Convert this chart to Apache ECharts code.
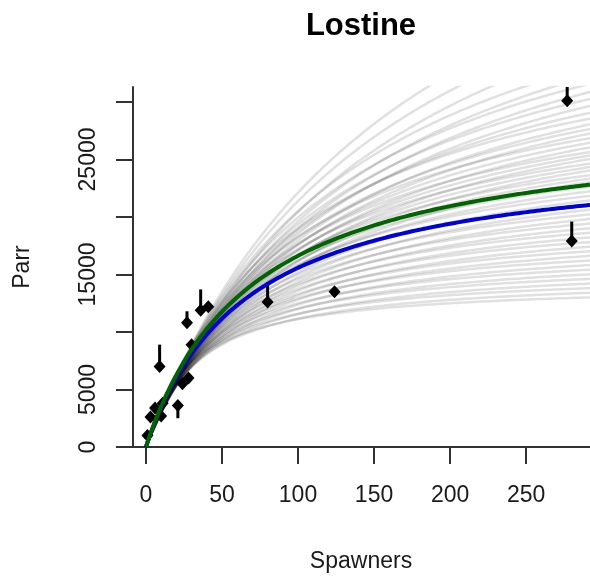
<!DOCTYPE html>
<html>
<head>
<meta charset="utf-8">
<script src="https://cdn.jsdelivr.net/npm/echarts@6/dist/echarts.min.js"></script>
<style>
html,body{margin:0;padding:0;background:#fff;}
#chart{width:590px;height:580px;}
</style>
</head>
<body>
<div id="chart"></div>
<script>
// ---- Data ----
const titleText = 'Lostine';
const xName = 'Spawners';
const yName = 'Parr';

const xTicks = [0, 50, 100, 150, 200, 250];
const yTicks = [0, 5000, 10000, 15000, 20000, 25000, 30000];
const yTickLabels = [0, 5000, 15000, 25000];

// observed points
const spawners = [1, 3, 6, 10, 11, 9, 21, 24, 28, 30, 27, 36, 41, 80, 124, 277, 280];
const parr     = [1000, 2600, 3400, 2700, 3800, 7000, 3600, 5500, 6000, 8900, 10800, 11900, 12200, 12600, 13500, 30100, 17900];
// other end of the vertical segment attached to a point (null = none)
const parrLineEnd = [null, null, null, null, null, 8900, 2500, null, null, null, 11800, 13700, null, 14300, null, 31400, 19600];

// fitted curves (Beverton-Holt: y = asym * x / (halfSat + x))
const blueAsym = 25750, blueHalfSat = 65.3;
const greenAsym = 28300, greenHalfSat = 70.3;

// grey posterior curves: value at 50 spawners and at 290 spawners
const greyAt50  = [13500,13200,12600,13000,12300,12800,12000,12500,11800,12200,12600,11600,12000,11400,12300,11700,11200,12000,11500,11000,11800,11300,10800,11600,11000,10600,11400,10900,11200,10500,11000,10300,10800,10100,10600,10000,10400,9800,10200,9600,10000,9500,9900,9300,9700,9200,9500,9000,9300,8900,9100];
const greyAt290 = [38000,36000,34500,33000,32200,31500,30800,30200,29600,29000,28500,28000,27600,27200,26800,26400,26000,25600,25300,25000,24600,24300,24000,23600,23300,23000,22600,22200,21800,21400,21000,20600,20200,19800,19400,19000,18600,18200,17800,17400,17000,16600,16200,15800,15400,15000,14600,14200,13800,13400,13000];

// ---- build ----
const X_MIN = -8.5, X_MAX = 292, Y_MIN = 0, Y_MAX = 31300;
const xs = [];
for (let x = 0; x <= X_MAX; x += 1) xs.push(x);

function bhCurve(asym, k) {
  return xs.map(x => [x, asym * x / (k + x)]);
}
function greyParams(v50, v290) {
  const r = v290 / v50;
  const k = 290 * (r - 1) / (290 / 50 - r);
  const asym = v50 * (k + 50) / 50;
  return [asym, k];
}

const series = [];
for (let i = 0; i < greyAt50.length; i++) {
  const [a, k] = greyParams(greyAt50[i], greyAt290[i]);
  series.push({
    type: 'line', data: bhCurve(a, k), showSymbol: false, silent: true,
    lineStyle: { color: 'rgba(0,0,0,0.12)', width: 2.5 }, z: 2, clip: true
  });
}

const segs = [];
for (let i = 0; i < spawners.length; i++) {
  if (parrLineEnd[i] !== null) segs.push([spawners[i], parr[i], parrLineEnd[i]]);
}
series.push({
  type: 'custom', z: 4, clip: true,
  renderItem: function (params, api) {
    const p0 = api.coord([api.value(0), api.value(1)]);
    const p1 = api.coord([api.value(0), api.value(2)]);
    return { type: 'line', shape: { x1: p0[0], y1: p0[1], x2: p1[0], y2: p1[1] },
             style: { stroke: '#000', lineWidth: 3 } };
  },
  data: segs
});
series.push({
  type: 'scatter', z: 5, symbol: 'diamond', symbolSize: [12, 13],
  itemStyle: { color: '#000', opacity: 1 },
  data: spawners.map((x, i) => [x, parr[i]])
});
series.push({
  type: 'line', data: bhCurve(blueAsym, blueHalfSat), showSymbol: false,
  lineStyle: { color: '#0000d8', width: 4 }, z: 6, clip: true
});
series.push({
  type: 'line', data: bhCurve(greenAsym, greenHalfSat), showSymbol: false,
  lineStyle: { color: '#006400', width: 4 }, z: 7, clip: true
});

const chart = echarts.init(document.getElementById('chart'), null, { renderer: 'canvas' });
const font = 'Liberation Sans, Arial, sans-serif';
chart.setOption({
  animation: false,
  backgroundColor: '#fff',
  grid: { left: 133, right: 0, top: 87, bottom: 133, containLabel: false },
  xAxis: {
    type: 'value', min: X_MIN, max: X_MAX,
    axisLine: { show: true, onZero: false, lineStyle: { color: '#333', width: 2 } },
    axisTick: { show: true, length: 17, customValues: xTicks, lineStyle: { color: '#333', width: 2 } },
    axisLabel: { customValues: xTicks, margin: 37, fontSize: 23, fontFamily: font, color: '#1a1a1a',
      formatter: v => String(v) },
    splitLine: { show: false }
  },
  yAxis: {
    type: 'value', min: Y_MIN, max: Y_MAX,
    axisLine: { show: true, onZero: false, lineStyle: { color: '#333', width: 2 } },
    axisTick: { show: true, length: 17, customValues: yTicks, lineStyle: { color: '#333', width: 2 } },
    axisLabel: { customValues: yTickLabels, rotate: 90, margin: 33, fontSize: 23, fontFamily: font, color: '#1a1a1a',
      formatter: v => String(v) },
    splitLine: { show: false }
  },
  graphic: [
    { type: 'text', x: 361, y: 26, style: { text: titleText, textAlign: 'center', textVerticalAlign: 'middle',
      font: 'bold 31px ' + font, fill: '#000' } },
    { type: 'text', x: 361, y: 562, style: { text: xName, textAlign: 'center', textVerticalAlign: 'middle',
      font: '23px ' + font, fill: '#1a1a1a' } },
    { type: 'text', x: 23, y: 267, rotation: Math.PI / 2, style: { text: yName, textAlign: 'center', textVerticalAlign: 'middle',
      font: '23px ' + font, fill: '#1a1a1a' } }
  ],
  series: series
});
</script>
</body>
</html>
